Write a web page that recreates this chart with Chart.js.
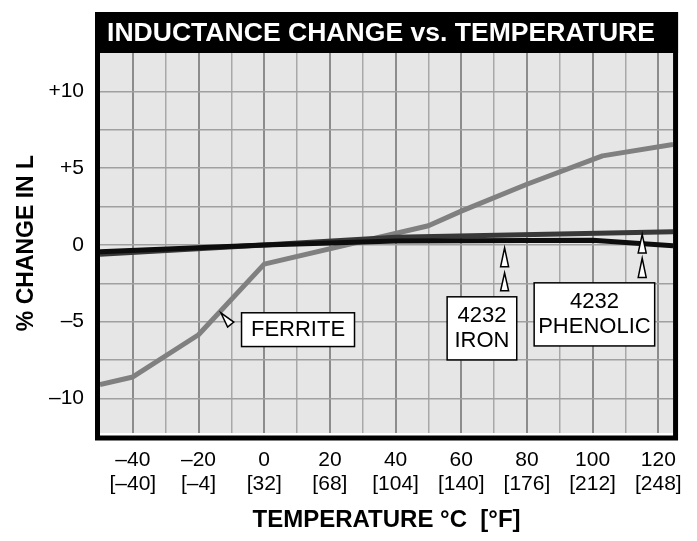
<!DOCTYPE html>
<html lang="en">
<head>
  <meta charset="UTF-8" />
  <title>Inductance change vs. temperature</title>
  <script src="https://cdn.jsdelivr.net/npm/chart.js"></script>
  <style>
    body { margin: 0; background: #fff; }
    .wrap { width: 697px; height: 541px; }
  </style>
</head>
<body>
  <div class="wrap"><canvas id="chart" width="697" height="541"></canvas></div>

  <script>
    const FONT = '"Liberation Sans", Arial, Helvetica, sans-serif';

    // Temperature axis (°C) with the Fahrenheit equivalents
    const celsiusTicks = [-40, -20, 0, 20, 40, 60, 80, 100, 120];
    const fahrenheitTicks = ['[–40]', '[–4]', '[32]', '[68]', '[104]', '[140]', '[176]', '[212]', '[248]'];
    const xGrid = [-40, -30, -20, -10, 0, 10, 20, 30, 40, 50, 60, 70, 80, 90, 100, 110, 120];

    // % change axis
    const yLabelValues = [10, 5, 0, -5, -10];
    const yLabelText = ['+10', '+5', '0', '–5', '–10'];
    const yGrid = [-10, -7.5, -5, -2.5, 0, 2.5, 5, 7.5, 10];

    // Curves (temperature °C, % change in L)
    const ferriteT = [-50, -40, -20, 0, 50, 60, 80, 103, 124.5];
    const ferriteL = [-9.1, -8.6, -5.85, -1.25, 1.25, 2.2, 3.95, 5.8, 6.55];
    const ironT = [-50, 0, 40, 124.5];
    const ironL = [-0.6, 0, 0.5, 0.85];
    const phenolicT = [-50, 0, 40, 100, 124.5];
    const phenolicL = [-0.45, 0, 0.25, 0.3, -0.05];

    const pts = (xs, ys) => xs.map((x, i) => ({ x, y: ys[i] }));

    // Callout boxes and arrows, placed in data units
    const callouts = [
      { lines: ['FERRITE'], x0: -6.9, x1: 27.5, y0: -4.42, y1: -6.62,
        arrows: [{ tip: [-13.2, -4.42], tail: [-10.2, -5.19] }] },
      { lines: ['4232', 'IRON'], x0: 55.7, x1: 76.9, y0: -3.38, y1: -7.49,
        arrows: [{ tip: [73.2, -0.19], tail: [73.2, -1.43] },
                 { tip: [73.2, -1.82], tail: [73.2, -2.99] }] },
      { lines: ['4232', 'PHENOLIC'], x0: 82.2, x1: 118.9, y0: -2.47, y1: -6.58,
        arrows: [{ tip: [115.1, 0.69], tail: [115.1, -0.52] },
                 { tip: [115.1, -0.87], tail: [115.1, -2.12] }] }
    ];

    const frame = {
      id: 'frame',
      beforeDraw(chart) {
        const { ctx, chartArea: a } = chart;
        ctx.save();
        ctx.fillStyle = '#e6e6e6';
        ctx.fillRect(a.left, a.top, a.right - a.left, a.bottom - a.top);
        ctx.restore();
      },
      afterDatasetsDraw(chart) {
        const { ctx, scales: { x, y } } = chart;
        ctx.save();
        callouts.forEach(c => {
          const l = x.getPixelForValue(c.x0), r = x.getPixelForValue(c.x1);
          const t = y.getPixelForValue(c.y0), b = y.getPixelForValue(c.y1);
          ctx.fillStyle = '#fff';
          ctx.strokeStyle = '#000';
          ctx.lineWidth = 1.5;
          ctx.fillRect(l, t, r - l, b - t);
          ctx.strokeRect(l, t, r - l, b - t);
          ctx.fillStyle = '#000';
          ctx.font = '22px ' + FONT;
          ctx.textAlign = 'center';
          ctx.textBaseline = 'middle';
          const lh = 25;
          const cy = (t + b) / 2 - (c.lines.length - 1) * lh / 2;
          c.lines.forEach((s, i) => ctx.fillText(s, (l + r) / 2, cy + i * lh));

          c.arrows.forEach(ar => {
            const tx = x.getPixelForValue(ar.tip[0]), ty = y.getPixelForValue(ar.tip[1]);
            const bx = x.getPixelForValue(ar.tail[0]), by = y.getPixelForValue(ar.tail[1]);
            const len = Math.hypot(bx - tx, by - ty);
            const nx = -(by - ty) / len, ny = (bx - tx) / len;
            const w = 4;
            ctx.beginPath();
            ctx.moveTo(tx, ty);
            ctx.lineTo(bx + nx * w, by + ny * w);
            ctx.lineTo(bx - nx * w, by - ny * w);
            ctx.closePath();
            ctx.fillStyle = '#fff';
            ctx.fill();
            ctx.lineWidth = 1.5;
            ctx.lineJoin = 'miter';
            ctx.stroke();
          });
        });
        ctx.restore();
      },
      afterDraw(chart) {
        const { ctx, chartArea: a } = chart;
        const barH = 41;
        ctx.save();
        ctx.fillStyle = '#000';
        ctx.fillRect(a.left - 5, a.top - barH, a.right - a.left + 10, barH);
        ctx.lineWidth = 5;
        ctx.strokeStyle = '#000';
        ctx.strokeRect(a.left - 2.5, a.top - barH + 2.5, a.right - a.left + 5, a.bottom - a.top + barH + 2.5);

        // title, squeezed to the width it has in the original
        const title = 'INDUCTANCE CHANGE vs. TEMPERATURE';
        ctx.font = 'bold 26px ' + FONT;
        const w = ctx.measureText(title).width;
        const target = 548;
        ctx.translate(a.left + 7, a.top - barH / 2 + 1);
        ctx.scale(target / w, 1);
        ctx.fillStyle = '#fff';
        ctx.textAlign = 'left';
        ctx.textBaseline = 'middle';
        ctx.fillText(title, 0, 0);
        ctx.restore();
      }
    };

    const line = (label, data, color, order) => ({
      label, data, borderColor: color, borderWidth: 5, pointRadius: 0,
      tension: 0, fill: false, order, borderJoinStyle: 'round'
    });

    new Chart(document.getElementById('chart'), {
      type: 'line',
      data: {
        datasets: [
          line('4232 Phenolic', pts(phenolicT, phenolicL), '#0d0d0d', 1),
          line('4232 Iron', pts(ironT, ironL), '#383838', 2),
          line('Ferrite', pts(ferriteT, ferriteL), '#808080', 3)
        ]
      },
      options: {
        responsive: false,
        animation: false,
        events: [],
        layout: { padding: { top: 53, right: 14, bottom: 0, left: 0 } },
        plugins: { legend: { display: false }, tooltip: { enabled: false } },
        scales: {
          x: {
            type: 'linear',
            min: -50,
            max: 124.5,
            afterFit(s) { s.height = 108; },
            afterBuildTicks(s) { s.ticks = xGrid.map(v => ({ value: v })); },
            border: { display: false },
            grid: {
              drawTicks: false,
              color: c => (c.tick && c.tick.value % 20 === 0) ? '#8c8c8c' : '#a8a8a8',
              lineWidth: c => (c.tick && c.tick.value % 20 === 0) ? 2 : 1.5
            },
            ticks: {
              autoSkip: false,
              maxRotation: 0,
              padding: 15,
              color: '#000',
              font: { family: FONT, size: 21, lineHeight: 1.15 },
              callback(v) {
                const i = celsiusTicks.indexOf(v);
                return i < 0 ? '' : [String(v).replace('-', '–'), fahrenheitTicks[i]];
              }
            },
            title: {
              display: true,
              text: 'TEMPERATURE °C  [°F]',
              color: '#000',
              padding: 6,
              font: { family: FONT, size: 24, weight: 'bold', lineHeight: 1.2 }
            }
          },
          y: {
            type: 'linear',
            min: -12.25,
            max: 12.5,
            afterFit(s) { s.width = 100; },
            afterBuildTicks(s) { s.ticks = yGrid.map(v => ({ value: v })); },
            border: { display: false },
            grid: { drawTicks: false, color: '#a0a0a0', lineWidth: 1.5 },
            ticks: {
              autoSkip: false,
              padding: 16,
              color: '#000',
              font: { family: FONT, size: 21 },
              callback(v) {
                const i = yLabelValues.indexOf(v);
                return i < 0 ? '' : yLabelText[i];
              }
            },
            title: {
              display: true,
              text: '% CHANGE IN L',
              color: '#000',
              padding: 13,
              font: { family: FONT, size: 23, weight: 'bold', lineHeight: 1.2 }
            }
          }
        }
      },
      plugins: [frame]
    });
  </script>
</body>
</html>
